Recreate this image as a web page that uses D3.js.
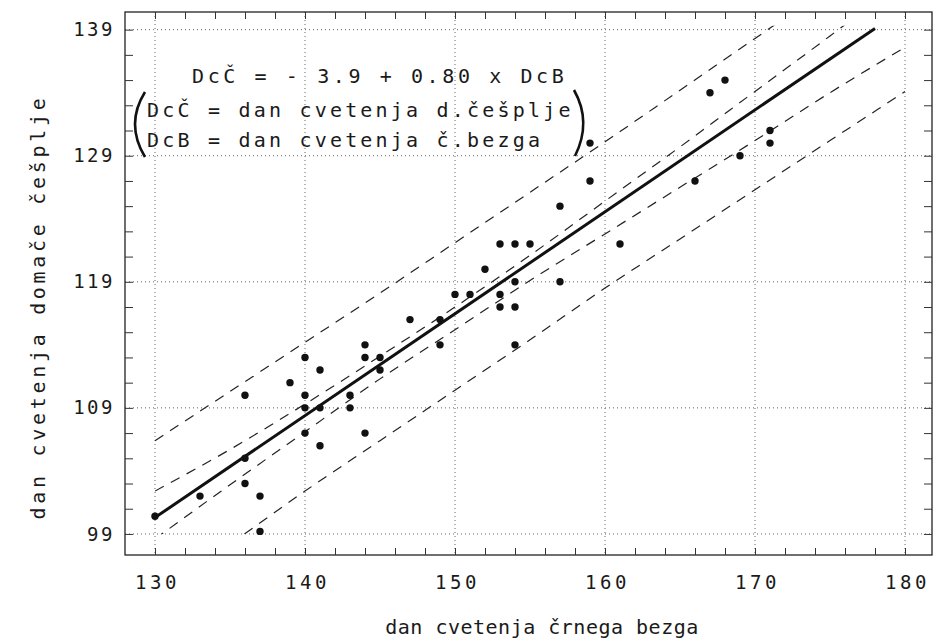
<!DOCTYPE html>
<html>
<head>
<meta charset="utf-8">
<script src="https://cdn.jsdelivr.net/npm/d3@7"></script>
<style>
  body { margin: 0; background: #fff; }
  .tick text { font-family: "DejaVu Sans Mono", monospace; fill: #1a1a1a; }
  .domain { display: none; }
  .tick line { stroke: #333; stroke-width: 1; }
</style>
</head>
<body>
<div id="chart"></div>
<script>
// dan cvetenja crnega bezga (x) / domace cesplje (y)
const bezgDan = [130, 133, 136, 136, 136, 137, 137, 139, 140, 140, 140, 140,
                 141, 141, 141, 143, 143, 144, 144, 144, 145, 145, 147, 149,
                 149, 150, 151, 152, 153, 154, 155, 153, 153, 154, 154, 154,
                 157, 157, 159, 159, 161, 166, 167, 168, 169, 171, 171];
const cespljaDan = [100.4, 102, 110, 105, 103, 102, 99.2, 111, 113, 110, 109, 107,
                    112, 109, 106, 110, 109, 114, 113, 107, 113, 112, 116, 116,
                    114, 118, 118, 120, 122, 122, 122, 118, 117, 117, 119, 114,
                    119, 125, 127, 130, 122, 127, 134, 135, 129, 131, 130];

// regresijska premica (konca, odcitano)
const regX = [130, 178];
const regY = [100.3, 139.1];

// pasova zaupanja / napovedi
const pasX = [130, 135, 140, 145, 150, 155, 160, 165, 170, 175, 180];
const notranjiZgoraj = [102.4, 105.7, 109.3, 113.1, 117.0, 121.1, 125.4, 129.7, 134.1, 138.5, 143.0];
const notranjiSpodaj = [98.6, 102.9, 107.1, 111.3, 115.2, 119.1, 122.8, 126.5, 130.2, 134.0, 137.6];
const zunanjiZgoraj = [106.4, 110.3, 114.2, 118.1, 122.1, 126.1, 130.1, 134.2, 138.3, 142.4, 146.5];
const zunanjiSpodaj = [94.2, 98.2, 102.4, 106.4, 110.4, 114.4, 118.5, 122.4, 126.3, 130.2, 134.1];

const xOznake = [130, 140, 150, 160, 170, 180];
const yOznake = [99, 109, 119, 129, 139];
const xMali = d3.range(130, 181, 2);
const yMali = d3.range(99, 140, 2);

const WIDTH = 948, HEIGHT = 644;
const frame = {left: 125, right: 932, top: 12, bottom: 555};

const svg = d3.select('#chart').append('svg')
    .attr('width', WIDTH)
    .attr('height', HEIGHT);

const x = d3.scaleLinear().domain([128, 181.8]).range([frame.left, frame.right]);
const y = d3.scaleLinear().domain([97.33, 140.4]).range([frame.bottom, frame.top]);

// mreza
svg.append('g').selectAll('line')
    .data(xOznake)
    .join('line')
    .attr('x1', d => x(d)).attr('x2', d => x(d))
    .attr('y1', frame.top).attr('y2', frame.bottom)
    .attr('stroke', '#666').attr('stroke-width', 1)
    .attr('stroke-dasharray', '1,3');

svg.append('g').selectAll('line')
    .data(yOznake)
    .join('line')
    .attr('x1', frame.left).attr('x2', frame.right)
    .attr('y1', d => y(d)).attr('y2', d => y(d))
    .attr('stroke', '#666').attr('stroke-width', 1)
    .attr('stroke-dasharray', '1,3');

// okvir
svg.append('rect')
    .attr('x', frame.left).attr('y', frame.top)
    .attr('width', frame.right - frame.left)
    .attr('height', frame.bottom - frame.top)
    .attr('fill', 'none').attr('stroke', '#222').attr('stroke-width', 1.3);

// kljukice (navznoter)
svg.append('g').attr('transform', `translate(0,${frame.bottom})`)
    .call(d3.axisBottom(x).tickValues(xMali).tickSize(-7).tickFormat(''));
svg.append('g').attr('transform', `translate(0,${frame.top})`)
    .call(d3.axisTop(x).tickValues(xMali).tickSize(-7).tickFormat(''));
svg.append('g').attr('transform', `translate(${frame.left},0)`)
    .call(d3.axisLeft(y).tickValues(yMali).tickSize(-8).tickFormat(''));
svg.append('g').attr('transform', `translate(${frame.right},0)`)
    .call(d3.axisRight(y).tickValues(yMali).tickSize(-8).tickFormat(''));

// oznake osi
const xAxis = svg.append('g').attr('transform', `translate(0,${frame.bottom})`)
    .call(d3.axisBottom(x).tickValues(xOznake).tickSize(0).tickPadding(21));
xAxis.selectAll('text')
    .style('font-size', '19px')
    .style('letter-spacing', '3.5px')
    .attr('dx', '2');

const yAxis = svg.append('g').attr('transform', `translate(${frame.left},0)`)
    .call(d3.axisLeft(y).tickValues(yOznake).tickSize(0).tickPadding(10));
yAxis.selectAll('text')
    .style('font-size', '19px')
    .style('letter-spacing', '2.5px');

// naslovi osi
svg.append('text')
    .attr('x', 542).attr('y', 634)
    .attr('text-anchor', 'middle')
    .style('font-family', '"DejaVu Sans Mono", monospace')
    .style('font-size', '20px')
    .style('letter-spacing', '0.5px')
    .attr('fill', '#1a1a1a')
    .text('dan cvetenja črnega bezga');

svg.append('text')
    .attr('transform', 'translate(45,307) rotate(-90)')
    .attr('text-anchor', 'middle')
    .style('font-family', '"DejaVu Sans Mono", monospace')
    .style('font-size', '20px')
    .style('letter-spacing', '3.7px')
    .attr('fill', '#1a1a1a')
    .text('dan cvetenja domače češplje');

// clip za crte
svg.append('clipPath').attr('id', 'podrocje')
    .append('rect')
    .attr('x', x(130)).attr('y', y(139.3))
    .attr('width', x(180) - x(130))
    .attr('height', y(99) - y(139.3));

const crta = d3.line()
    .x(d => x(d[0]))
    .y(d => y(d[1]))
    .curve(d3.curveMonotoneX);

const pasovi = [notranjiZgoraj, notranjiSpodaj, zunanjiZgoraj, zunanjiSpodaj];
svg.append('g').attr('clip-path', 'url(#podrocje)')
    .selectAll('path')
    .data(pasovi)
    .join('path')
    .attr('d', vals => crta(pasX.map((v, i) => [v, vals[i]])))
    .attr('fill', 'none')
    .attr('stroke', '#222')
    .attr('stroke-width', 1.2)
    .attr('stroke-dasharray', '10,8');

svg.append('path')
    .attr('d', crta(regX.map((v, i) => [v, regY[i]])))
    .attr('fill', 'none')
    .attr('stroke', '#111')
    .attr('stroke-width', 3);

// tocke
svg.append('g').selectAll('circle')
    .data(bezgDan.map((v, i) => [v, cespljaDan[i]]))
    .join('circle')
    .attr('cx', d => x(d[0]))
    .attr('cy', d => y(d[1]))
    .attr('r', 3.7)
    .attr('fill', '#111');

// enacba
const enacba = svg.append('g')
    .style('font-family', '"DejaVu Sans Mono", monospace')
    .style('font-size', '20px')
    .attr('fill', '#1a1a1a');
enacba.append('text')
    .attr('x', 192).attr('y', 83)
    .style('letter-spacing', '3.6px')
    .text('DcČ = - 3.9 + 0.80 x DcB');
enacba.append('text')
    .attr('x', 147).attr('y', 117)
    .style('letter-spacing', '3.2px')
    .text('DcČ = dan cvetenja d.češplje');
enacba.append('text')
    .attr('x', 147).attr('y', 147)
    .style('letter-spacing', '3.2px')
    .text('DcB = dan cvetenja č.bezga');

// oklepaja
enacba.append('path')
    .attr('d', 'M145,92 Q125,124 145,157')
    .attr('fill', 'none').attr('stroke', '#111').attr('stroke-width', 2.6);
enacba.append('path')
    .attr('d', 'M574,90 Q592,122 575,156')
    .attr('fill', 'none').attr('stroke', '#111').attr('stroke-width', 2.6);
</script>
</body>
</html>
